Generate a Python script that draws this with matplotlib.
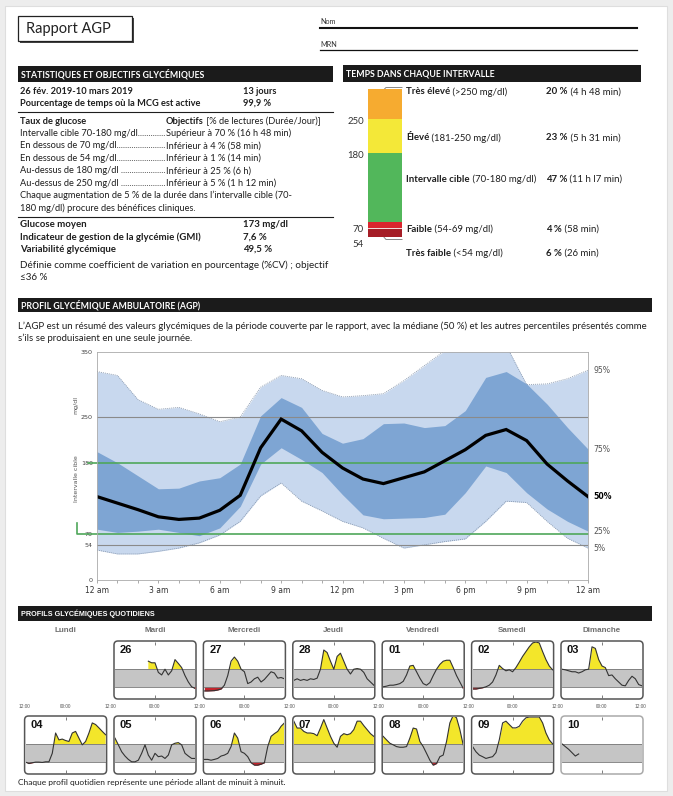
import numpy as np
import matplotlib
matplotlib.use('Agg')
import matplotlib.pyplot as plt
from matplotlib.patches import Rectangle, FancyBboxPatch

nan = np.nan

# statistiques (bloc gauche)
periode = ['26 fév. 2019-10 mars 2019', 'Pourcentage de temps où la MCG est active']
periode_val = ['13 jours', '99,9 %']
goal_labels = ['Intervalle cible 70-180 mg/dl', 'En dessous de 70 mg/dl', 'En dessous de 54 mg/dl',
               'Au-dessus de 180 mg/dl ', 'Au-dessus de 250 mg/dl ']
goal_targets = ['Supérieur à 70 % (16 h 48 min)', 'Inférieur à 4 % (58 min)', 'Inférieur à 1 % (14 min)',
                'Inférieur à 25 % (6 h)', 'Inférieur à 5 % (1 h 12 min)']
stat_labels = ['Glucose moyen', 'Indicateur de gestion de la glycémie (GMI)', 'Variabilité glycémique']
stat_values = ['173 mg/dl', '7,6 %', '49,5 %']

# temps dans chaque intervalle
tir_names = ['Très élevé', 'Élevé', 'Intervalle cible', 'Faible', 'Très faible']
tir_ranges = [' (>250 mg/dl)', ' (181-250 mg/dl)', ' (70-180 mg/dl)', ' (54-69 mg/dl)', ' (<54 mg/dl)']
tir_pct = [20, 23, 47, 4, 6]
tir_time = [' (4 h 48 min)', ' (5 h 31 min)', ' (11 h l7 min)', ' (58 min)', ' (26 min)']
tir_colors = ['#f6ab30', '#f4e838', '#52b75b', '#d9252e', '#a51d26']

# AGP, percentiles horaires 0h..24h
hours = np.arange(25)
p95 = [320, 314, 277, 262, 265, 255, 243, 250, 296, 314, 309, 291, 281, 283, 286, 306,
       329, 352, 358, 360, 360, 300, 301, 309, 322]
p75 = [197, 180, 160, 140, 141, 152, 157, 178, 252, 280, 265, 225, 210, 217, 240, 241,
       234, 237, 260, 311, 320, 301, 270, 234, 201]
p50 = [128, 118, 108, 97, 93, 95, 107, 130, 203, 247, 229, 196, 172, 155, 148, 157,
       166, 183, 200, 222, 231, 214, 178, 152, 128]
p25 = [78, 73, 75, 78, 73, 68, 80, 113, 178, 203, 185, 165, 131, 100, 94, 95,
       96, 101, 134, 175, 165, 134, 109, 90, 75]
p05 = [46, 40, 40, 44, 49, 57, 69, 90, 129, 149, 121, 106, 90, 80, 64, 49,
       54, 59, 63, 90, 121, 119, 90, 64, 49]
hour_labels = ['12 am', '3 am', '6 am', '9 am', '12 pm', '3 pm', '6 pm', '9 pm', '12 am']

# profils quotidiens (mg/dl par heure)
day_names = ['Lundi', 'Mardi', 'Mercredi', 'Jeudi', 'Vendredi', 'Samedi', 'Dimanche']
g26 = [nan] * 10 + [230, 220, 220, 160, 144, 180, 144, 170, 240, 216, 190, 140, 100, 70, 60]
g27 = [44, 44, 45, 46, 50, 56, 80, 140, 230, 256, 230, 180, 164, 90, 100, 120, 130, 100, 116, 140, 164, 156, 124, 128, 120]
g28 = [110, 120, 110, 116, 110, 120, 116, 124, 180, 300, 284, 230, 180, 260, 280, 230, 180, 150, 180, 184, 180, 160, 120, 100, 80]
g01 = [70, 74, 80, 80, 84, 90, 104, 144, 200, 204, 164, 124, 90, 80, 96, 140, 180, 210, 230, 236, 236, 190, 140, 100, 60]
g02 = [56, 56, 60, 64, 70, 80, 100, 144, 204, 184, 170, 176, 164, 190, 224, 260, 290, 320, 344, 350, 344, 290, 240, 200, 176]
g03 = [180, 176, 170, 164, 164, 156, 164, 176, 180, 320, 310, 240, 200, 190, 140, 144, 120, 100, 80, 76, 110, 136, 120, 84, 76]
g04 = [68, 59, 64, 68, 68, 66, 70, 70, 123, 250, 207, 212, 203, 197, 250, 260, 218, 176, 197, 250, 313, 303, 282, 260, 239]
g05 = [218, 176, 133, 106, 85, 70, 70, 80, 123, 176, 112, 80, 123, 102, 106, 91, 112, 176, 186, 190, 176, 123, 106, 91, 91]
g06 = [85, 85, 80, 85, 91, 106, 112, 123, 165, 250, 218, 133, 123, 102, 64, 49, 49, 55, 64, 165, 229, 246, 260, 292, 313]
g07 = [324, 281, 281, 260, 250, 250, 246, 233, 281, 334, 281, 229, 186, 161, 229, 246, 239, 246, 271, 324, 324, 296, 271, 246, 229]
g08 = [229, 207, 186, 176, 165, 161, 161, 165, 218, 281, 275, 197, 165, 123, 80, 49, 59, 102, 112, 197, 313, 360, 345, 271, 176]
g09 = [165, 133, 112, 102, 91, 97, 102, 127, 207, 313, 324, 303, 282, 282, 292, 324, 345, 350, 350, 350, 350, 313, 250, 207, 182]
g10 = [182, 165, 148, 127, 106, 119] + [nan] * 19
row1 = [('26', g26), ('27', g27), ('28', g28), ('01', g01), ('02', g02), ('03', g03)]
row2 = [('04', g04), ('05', g05), ('06', g06), ('07', g07), ('08', g08), ('09', g09), ('10', g10)]

BODY = ['Lato', 'DejaVu Sans']
NARROW = ['Liberation Sans Narrow', 'Liberation Sans', 'DejaVu Sans']
plt.rcParams['font.family'] = BODY
INK = '#1e1e1e'
FS = 6.7

W, H = 673, 796
fig = plt.figure(figsize=(W / 100, H / 100), dpi=100, facecolor='#ededed')
bg = fig.add_axes([0, 0, 1, 1])
bg.set_xlim(0, W)
bg.set_ylim(H, 0)
bg.axis('off')
rend = fig.canvas.get_renderer()


def px_axes(x0, y0, x1, y1):
    return fig.add_axes([x0 / W, 1 - y1 / H, (x1 - x0) / W, (y1 - y0) / H])


def txt(x, y, s, size=FS, weight='normal', color=INK, ha='left', **kw):
    return bg.text(x, y, s, fontsize=size, fontweight=weight, color=color, ha=ha, va='center', **kw)


def runs(x, y, parts, size=FS, color=INK):
    for s, w in parts:
        t = txt(x, y, s, size=size, weight=w, color=color)
        x += t.get_window_extent(renderer=rend).width


def header(x0, x1, y0, y1, label, size=6.3, family=BODY):
    bg.add_patch(Rectangle((x0, y0), x1 - x0, y1 - y0, color='#1b1b1b', lw=0))
    txt(x0 + 3, (y0 + y1) / 2 + 0.5, label, size=size, weight='bold', color='white', family=family)


# page
bg.add_patch(Rectangle((5, 6), 662, 785, facecolor='white', edgecolor='#dedede', lw=0.8))

# titre
bg.add_patch(Rectangle((19.5, 17.5), 114, 25, facecolor='#444', lw=0))
bg.add_patch(Rectangle((18, 16), 114, 25, facecolor='white', edgecolor='#222', lw=0.9))
txt(26, 28.5, 'Rapport AGP', size=10.5, color='#222')
txt(320, 21.5, 'Nom', size=5.2, color='#333')
bg.plot([320, 637], [28, 28], color='#111', lw=1.5)
txt(320, 44.5, 'MRN', size=5.2, color='#333')
bg.plot([320, 637], [50, 50], color='#111', lw=0.9)

# statistiques
header(18, 333, 66, 82, 'STATISTIQUES ET OBJECTIFS GLYCÉMIQUES')
for i, (lab, val) in enumerate(zip(periode, periode_val)):
    txt(20, 91 + 12 * i, lab, weight='bold')
    txt(243, 91 + 12 * i, val, weight='bold')
bg.plot([18, 333], [112, 112], color=INK, lw=0.8)
txt(20, 121, 'Taux de glucose', weight='bold')
runs(166, 121, [('Objectifs', 'bold'), (' [% de lectures (Durée/Jour)]', 'normal')])
for i, (lab, tgt) in enumerate(zip(goal_labels, goal_targets)):
    y = 133.5 + 12.4 * i
    t = txt(20, y, lab)
    s = lab
    while t.get_window_extent(renderer=rend).x1 < 165:
        s += '.'
        t.set_text(s)
    txt(166, y, tgt)
txt(20, 195.5, 'Chaque augmentation de 5 % de la durée dans l’intervalle cible (70-')
txt(20, 208, '180 mg/dl) procure des bénéfices cliniques.')
bg.plot([18, 333], [217, 217], color=INK, lw=0.8)
for i, (lab, val) in enumerate(zip(stat_labels, stat_values)):
    txt(20, 224.5 + 12.4 * i, lab, weight='bold', size=6.9)
    txt(243, 224.5 + 12.4 * i, val, weight='bold', size=6.9)
txt(20, 265.5, 'Définie comme coefficient de variation en pourcentage (%CV) ; objectif', size=7.1)
txt(20, 278, '≤36 %', size=7.1)

# temps dans chaque intervalle
header(343, 641, 65, 82, 'TEMPS DANS CHAQUE INTERVALLE')
axb = px_axes(368, 89, 402, 237)
bottom = 0
for pct, col in zip(tir_pct, tir_colors):
    axb.bar(0, pct, bottom=bottom, width=1, color=col, lw=0)
    bottom += pct
axb.axhline(tir_pct[0] + tir_pct[1] + tir_pct[2] + tir_pct[3], color='white', lw=0.6)
axb.set_xlim(-0.5, 0.5)
axb.set_ylim(100, 0)
axb.axis('off')
bg.plot([383, 386, 402], [90.5, 87.5, 87.5], color='#888', lw=0.7)
bg.plot([383, 386, 402], [236, 239.5, 239.5], color='#888', lw=0.7)
for lab, y in zip(['250', '180', '70', '54'], [122, 155, 229, 244.5]):
    txt(364, y, lab, ha='right', color='#333', size=6.9)
for i, y in enumerate([92, 138, 179.5, 229.5, 253]):
    runs(406, y, [(tir_names[i], 'bold'), (tir_ranges[i], 'normal')], size=6.9)
    runs(546, y, [('%d %%' % tir_pct[i], 'bold'), (tir_time[i], 'normal')], size=6.9)

# AGP
header(18, 652, 298, 312, 'PROFIL GLYCÉMIQUE AMBULATOIRE (AGP)')
txt(18, 326, 'L’AGP est un résumé des valeurs glycémiques de la période couverte par le rapport, '
             'avec la médiane (50 %) et les autres percentiles présentés comme', size=6.95)
txt(18, 338, 's’ils se produisaient en une seule journée.', size=6.95)

ax = px_axes(97, 352, 588, 580)
ax.fill_between(hours, p05, p95, color='#c8d8ee', lw=0)
ax.fill_between(hours, p25, p75, color='#7ea5d3', lw=0)
ax.plot(hours, p95, color='#8797ad', lw=0.6, ls=(0, (1.2, 1.2)))
ax.plot(hours, p05, color='#8797ad', lw=0.6, ls=(0, (1.2, 1.2)))
for v in (250, 54):
    ax.axhline(v, color='#8a8a8a', lw=0.8)
ax.plot([-0.45, 24], [180, 180], color='#4fa75a', lw=1.2, clip_on=False)
ax.plot([-0.98, -0.98, 24], [88, 70, 70], color='#4fa75a', lw=1.2, clip_on=False)
ax.plot(hours, p50, color='black', lw=2.3, solid_joinstyle='miter')
ax.set_xlim(0, 24)
ax.set_ylim(0, 350)
ax.set_xticks(range(0, 25, 3))
ax.set_xticklabels(hour_labels, family='DejaVu Sans', fontsize=5.5, color='#333')
ax.set_xticks(range(25), minor=True)
ax.set_yticks([0, 54, 70, 180, 250, 350])
ax.set_yticklabels(['0', '54', '70', '180', '250', '350'], family='DejaVu Sans', fontsize=4.6, color='#444')
ax.tick_params(axis='x', which='both', length=2.5, width=0.5, color='#888', pad=1.5)
ax.tick_params(axis='y', length=0, pad=3)
for sp in ax.spines.values():
    sp.set_color('#aaaaaa')
    sp.set_linewidth(0.6)
for lab, v, w, c in zip(['95%', '75%', '50%', '25%', '5%'],
                        [p95[-1], p75[-1], p50[-1], p25[-1], p05[-1]],
                        ['normal', 'normal', 'bold', 'normal', 'normal'],
                        ['#555', '#555', 'black', '#555', '#555']):
    ax.text(24.25, v, lab, fontsize=5.6, family='DejaVu Sans', fontweight=w, color=c,
            va='center', ha='left', clip_on=False)
txt(76, 405, 'mg/dl', size=4.5, color='#555', rotation=90, ha='center', family='DejaVu Sans')
txt(76, 479, 'Intervalle cible', size=4.5, color='#555', rotation=90, ha='center', family='DejaVu Sans')

# profils quotidiens
header(18, 652, 606, 621, 'PROFILS GLYCÉMIQUES QUOTIDIENS', size=5.2, family=NARROW)
col_x = [24.6 + 89.4 * i for i in range(7)]
pw = 82
for i, name in enumerate(day_names):
    txt(col_x[i] + pw / 2, 631, name, size=5.8, color='#707070', ha='center', weight='bold', family=NARROW)

tick_x = [col_x[0]] + [c - 3.5 for c in col_x[1:]] + [col_x[6] + pw - 3]
for x in tick_x:
    txt(x, 706.5, '12:00', size=3.4, color='#555', ha='center', family=NARROW)
for c in col_x:
    txt(c + pw / 2, 706.5, '00:00', size=3.4, color='#555', ha='center', family=NARROW)


def day_panel(x0, y0, y1, label, vals, edge='#555'):
    bg.add_patch(FancyBboxPatch((x0, y0), pw, y1 - y0, boxstyle='round,pad=0,rounding_size=4',
                                facecolor='white', edgecolor=edge, lw=1.1))
    a = px_axes(x0 + 1, y0 + 1, x0 + pw - 1, y1 - 1)
    a.set_facecolor('none')
    y = np.array(vals, dtype=float)
    a.axhspan(70, 180, color='#c5c5c5', lw=0)
    a.fill_between(hours, y, 180, where=y > 180, interpolate=True, color='#f3e62a', lw=0)
    a.fill_between(hours, y, 70, where=y < 70, interpolate=True, color='#c3252d', lw=0)
    a.axhline(180, color='#777', lw=0.6)
    a.axhline(70, color='#777', lw=0.6)
    a.plot(hours, y, color='#333', lw=0.8)
    a.set_xlim(0, 24)
    a.set_ylim(0, 350)
    a.set_xticks([12])
    a.set_xticklabels([])
    a.set_yticks([])
    a.tick_params(axis='x', direction='in', top=True, length=2.5, width=0.6, color='#666')
    for sp in a.spines.values():
        sp.set_visible(False)
    a.text(0.06, 0.8, label, transform=a.transAxes, fontsize=8, fontweight='bold',
           color='#111', family=['Liberation Sans', 'DejaVu Sans'])


for k, (lab, vals) in enumerate(row1):
    day_panel(col_x[k + 1], 641, 699, lab, vals)
for k, (lab, vals) in enumerate(row2):
    day_panel(col_x[k], 716, 774, lab, vals, edge='#aaaaaa' if lab == '10' else '#555')

txt(18, 782, 'Chaque profil quotidien représente une période allant de minuit à minuit.', size=6.0)

fig.savefig('out.png', dpi=100, facecolor=fig.get_facecolor())
